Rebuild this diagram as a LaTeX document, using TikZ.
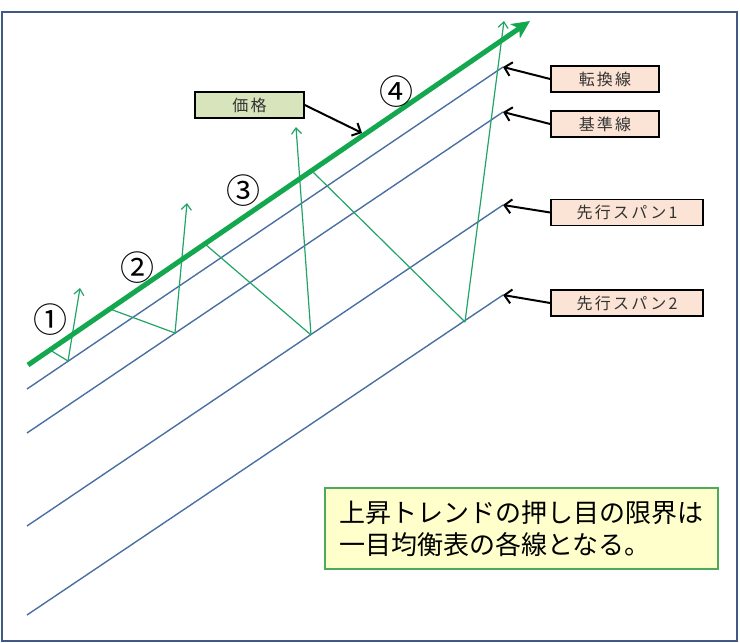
\documentclass[tikz,border=0pt]{standalone}
\usepackage{fontspec}
\newfontfamily\jpfont{Noto Sans CJK JP}
\newfontfamily\jplabel[LetterSpace=14]{Noto Sans CJK JP}
\usetikzlibrary{arrows.meta}

\definecolor{framecol}{HTML}{3F5A80}
\definecolor{spanblue}{HTML}{4A6FA0}
\definecolor{pricegreen}{HTML}{13A850}
\definecolor{zigzag}{HTML}{22A468}
\definecolor{peach}{HTML}{FBE4D5}
\definecolor{olivefill}{HTML}{D7E4BC}
\definecolor{notefill}{HTML}{FFFFCC}
\definecolor{noteline}{HTML}{4CAA5A}

\begin{document}
\begin{tikzpicture}[
    x=1pt, y=-1pt,
    font=\jpfont,
    ichimoku/.style={spanblue, line width=1.4pt},
    price/.style={pricegreen, line width=5pt, -{Stealth[length=18pt, width=17pt, inset=5pt]}},
    pullback/.style={zigzag, line width=1.2pt},
    bounce/.style={zigzag, line width=1.2pt, -{Straight Barb[length=6pt, width=10pt]}},
    tag/.style={draw=black, line width=1.5pt, fill=peach, minimum height=26pt, inner sep=0pt,
        text=black!80, font=\jplabel\fontsize{16}{17}\selectfont},
    pointer/.style={black, line width=2pt, -{Straight Barb[length=7pt, width=14pt]}},
    step num/.style={font=\jpfont\fontsize{34}{34}\selectfont, inner sep=0pt}
]

\useasboundingbox (0,0) rectangle (740,643);
\draw[framecol, line width=2pt] (2,12) rectangle (737,641);

% ichimoku lines
\coordinate (tenkan-s) at (27,389);   \coordinate (tenkan-e) at (503,67);
\coordinate (kijun-s) at (27,433);    \coordinate (kijun-e) at (503,112);
\coordinate (spanA-s) at (27,526);    \coordinate (spanA-e) at (503,205);
\coordinate (spanB-s) at (27,615);    \coordinate (spanB-e) at (503,295);

\draw[ichimoku] (tenkan-s) -- (tenkan-e);
\draw[ichimoku] (kijun-s) -- (kijun-e);
\draw[ichimoku] (spanA-s) -- (spanA-e);
\draw[ichimoku] (spanB-s) -- (spanB-e);

% pullbacks
\coordinate (p1) at (50,350);   \coordinate (b1) at (68,361);   \coordinate (t1) at (80,288);
\coordinate (p2) at (110,309);  \coordinate (b2) at (175,333);  \coordinate (t2) at (187,203);
\coordinate (p3) at (205,244);  \coordinate (b3) at (311,335);  \coordinate (t3) at (296,127);
\coordinate (p4) at (312,171);  \coordinate (b4) at (465,322);  \coordinate (t4) at (504,21);

\draw[pullback] (p1) -- (b1);
\draw[bounce] (b1) -- (t1);
\draw[pullback] (p2) -- (b2);
\draw[bounce] (b2) -- (t2);
\draw[pullback] (p3) -- (b3);
\draw[bounce] (b3) -- (t3);
\draw[pullback] (p4) -- (b4);
\draw[bounce] (b4) -- (t4);

% price
\coordinate (price-s) at (28,365);
\coordinate (price-e) at (530,21);
\coordinate (price-mid) at (362,133);
\draw[price] (price-s) -- (price-e);

\node[step num] (n1) at (50,320) {①};
\node[step num] (n2) at (137,268) {②};
\node[step num] (n3) at (243,191) {③};
\node[step num] (n4) at (396,92) {④};

% labels
\node[tag, fill=olivefill, minimum width=109pt] (kakaku) at (249.5,105) {価格};
\node[tag, minimum width=108pt] (tenkan) at (605,79) {転換線};
\node[tag, minimum width=108pt] (kijun) at (605,124) {基準線};
\node[tag, minimum width=152pt] (spanA) at (627,212.5) {先行スパン1};
\node[tag, minimum width=152pt] (spanB) at (627,303) {先行スパン2};

\draw[pointer] (kakaku.east) -- (price-mid);
\draw[pointer] (tenkan.west) -- (tenkan-e);
\draw[pointer] (kijun.west) -- (kijun-e);
\draw[pointer] (spanA.west) -- (spanA-e);
\draw[pointer] (spanB.west) -- (spanB-e);

\node[draw=noteline, line width=1.3pt, fill=notefill, minimum width=393pt, minimum height=81pt,
      align=left, font=\jpfont\fontsize{26}{32}\selectfont] (note) at (521.5,528.5)
{上昇トレンドの押し目の限界は\\一目均衡表の各線となる。};

\end{tikzpicture}
\end{document}
